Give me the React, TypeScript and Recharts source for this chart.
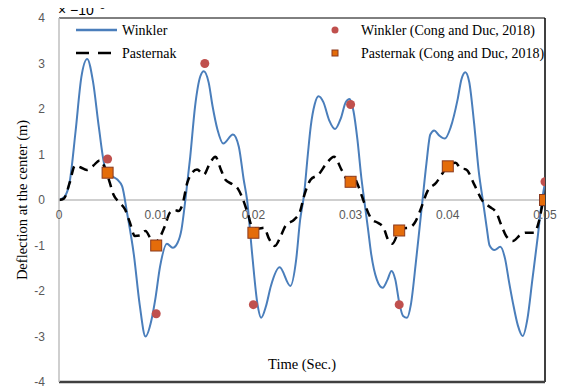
import React from 'react';
import {
  ComposedChart,
  Line,
  Scatter,
  XAxis,
  YAxis,
  ReferenceLine,
  ReferenceDot,
} from 'recharts';

// time axis (s) and deflection (x 1e-5 m)
const winklerT = [
  0, 0.0006, 0.0011, 0.0017, 0.0023, 0.0029, 0.0035, 0.0041, 0.0047, 0.0053, 0.006, 0.0065,
  0.007, 0.0077, 0.0083, 0.0089, 0.0095, 0.0099, 0.0104, 0.0111, 0.0117, 0.0122, 0.0126,
  0.013, 0.0135, 0.014, 0.01454, 0.0149, 0.0154, 0.0158, 0.0163, 0.0169, 0.0179, 0.0185,
  0.019, 0.01935, 0.01986, 0.0204, 0.0208, 0.0213, 0.0218, 0.0227, 0.0238, 0.0244, 0.0248,
  0.0252, 0.0256, 0.0259, 0.0263, 0.0267, 0.0272, 0.0278, 0.0284, 0.029, 0.0295, 0.0299,
  0.0303, 0.0307, 0.0311, 0.0314, 0.0318, 0.0321, 0.0327, 0.0333, 0.0338, 0.0342, 0.0346,
  0.035, 0.0354, 0.0358, 0.0362, 0.0367, 0.0371, 0.0374, 0.0378, 0.0382, 0.0386, 0.0391,
  0.0397, 0.0403, 0.041, 0.0414, 0.0418, 0.0422, 0.0427, 0.0432, 0.0436, 0.044, 0.0443,
  0.0448, 0.0454, 0.0459, 0.0463, 0.0467, 0.0472, 0.0477, 0.0482, 0.0487, 0.0492, 0.0497, 0.05,
];
const winklerV = [
  0, 0.08, 0.4, 1.5, 2.7, 3.1, 2.6, 1.6, 0.75, 0.55, 0.45, 0.3,
  -0.28, -1.2, -2.3, -3.0, -2.65, -2.19, -1.46, -0.96, -1.05, -0.94, -0.65,
  0.0, 0.95, 2.06, 2.72, 2.83, 2.58, 2.06, 1.55, 1.24, 1.44, 1.17,
  0.45, 0.0, -1.16, -2.26, -2.59, -2.33, -1.89, -1.48, -1.89, -1.31, -0.45,
  0.1, 1.0, 1.62, 2.1, 2.28, 2.15, 1.75, 1.56, 1.8, 2.15, 2.22,
  1.95, 1.33, 0.5, 0.0, -0.65, -1.16, -1.75, -1.93, -1.75, -1.56, -1.75,
  -2.25, -2.55, -2.59, -2.3, -1.4, -0.6, 0.0, 0.8, 1.44, 1.53, 1.42,
  1.35, 1.6, 2.2, 2.65, 2.81, 2.6, 1.7, 0.6, 0.0, -0.6, -1.0,
  -1.1, -1.03, -1.3, -1.8, -2.26, -2.75, -2.99, -2.6, -1.75, -0.9, 0.0, 0.38,
];

const pasternakT = [
  0, 0.0005, 0.0011, 0.00165, 0.0022, 0.00285, 0.0035, 0.0042, 0.0047, 0.0052, 0.0056, 0.0062,
  0.0068, 0.0073, 0.0078, 0.0083, 0.0089, 0.0094, 0.0097, 0.0103, 0.0109, 0.0114, 0.0119,
  0.0123, 0.0127, 0.0132, 0.0137, 0.0142, 0.0149, 0.0155, 0.0161, 0.0166, 0.0171, 0.0178,
  0.0184, 0.0188, 0.0194, 0.0199, 0.0205, 0.0211, 0.0216, 0.0222, 0.0228, 0.0233, 0.0242,
  0.0248, 0.0252, 0.0259, 0.0267, 0.0275, 0.0283, 0.0291, 0.0297, 0.0303, 0.0308, 0.0314,
  0.0322, 0.0328, 0.0334, 0.0338, 0.0343, 0.0349, 0.0355, 0.036, 0.0366, 0.0372, 0.0379,
  0.0388, 0.0395, 0.0401, 0.0408, 0.0413, 0.0419, 0.0427, 0.0436, 0.0443, 0.045, 0.0455,
  0.046, 0.0467, 0.0474, 0.048, 0.0489, 0.0494, 0.0498, 0.05,
];
const pasternakV = [
  0, 0.03, 0.38, 0.76, 0.72, 0.66, 0.75, 0.87, 0.72, 0.4, 0.12, -0.05,
  -0.21, -0.5, -0.79, -0.78, -0.68, -0.85, -0.97, -0.85, -0.57, -0.28, -0.22,
  -0.24, -0.1, 0.38, 0.6, 0.67, 0.56, 0.8, 0.95, 0.7, 0.45, 0.35,
  0.25, 0.08, -0.28, -0.6, -0.63, -0.61, -0.85, -1.01, -0.8, -0.57, -0.43,
  -0.25, 0.08, 0.45, 0.56, 0.8, 0.95, 0.65, 0.45, 0.51, 0.3, -0.06,
  -0.43, -0.5, -0.61, -0.85, -0.96, -0.72, -0.62, -0.61, -0.5, -0.21, 0.19,
  0.38, 0.6, 0.78, 0.82, 0.7, 0.67, 0.35, -0.03, -0.15, -0.28, -0.55,
  -0.79, -0.9, -0.78, -0.72, -0.72, -0.45, -0.06, 0,
];

const congWinklerT = [0.005, 0.01, 0.015, 0.02, 0.03, 0.035, 0.05];
const congWinklerV = [0.9, -2.5, 3.0, -2.3, 2.1, -2.3, 0.4];
const congPasternakT = [0.005, 0.01, 0.02, 0.03, 0.035, 0.04, 0.05];
const congPasternakV = [0.6, -1.0, -0.72, 0.4, -0.67, 0.74, 0];

const xTicks = [0, 0.01, 0.02, 0.03, 0.04, 0.05];
const xTickLabels = ['0', '0.01', '0.02', '0.03', '0.04', '0.05'];
const yTicks = [-4, -3, -2, -1, 0, 1, 2, 3, 4];

const winkler = winklerT.map((t, i) => ({ t, v: winklerV[i] }));
const pasternak = pasternakT.map((t, i) => ({ t, v: pasternakV[i] }));
const congWinkler = congWinklerT.map((t, i) => ({ t, v: congWinklerV[i] }));
const congPasternak = congPasternakT.map((t, i) => ({ t, v: congPasternakV[i] }));

const SERIF = '"Liberation Serif", "Times New Roman", serif';
const SANS = '"Liberation Sans", Arial, sans-serif';
const BLUE = '#4a7ebb';
const RED = '#c0504d';
const ORANGE = '#e46c0a';
const ORANGE_EDGE = '#8b3a1e';

const Circle = (p: any) => <circle cx={p.cx} cy={p.cy} r={4.5} fill={RED} />;
const Square = (p: any) => (
  <rect x={p.cx - 5.5} y={p.cy - 5.5} width={11} height={11} fill={ORANGE} stroke={ORANGE_EDGE} strokeWidth={1} />
);

// legend, anchored to the top edge of the plot
function TopLegend({ viewBox }: any) {
  const x = viewBox.x;
  const y = viewBox.y;
  const t = { fontFamily: SERIF, fontSize: 14, fill: '#000' };
  return (
    <g>
      <line x1={x + 17} x2={x + 58} y1={y + 12} y2={y + 12} stroke={BLUE} strokeWidth={2.5} />
      <text x={x + 63} y={y + 17} {...t}>Winkler</text>
      <line x1={x + 17} x2={x + 58} y1={y + 35} y2={y + 35} stroke="#000" strokeWidth={2.5} strokeDasharray="13 9" />
      <text x={x + 63} y={y + 40} {...t}>Pasternak</text>
      <circle cx={x + 276} cy={y + 12} r={3.5} fill={RED} />
      <text x={x + 302} y={y + 17} {...t}>Winkler (Cong and Duc, 2018)</text>
      <rect x={x + 273} y={y + 32} width={6} height={6} fill={ORANGE} stroke={ORANGE_EDGE} strokeWidth={1} />
      <text x={x + 302} y={y + 40} {...t}>Pasternak (Cong and Duc, 2018)</text>
    </g>
  );
}

function YTitle({ viewBox }: any) {
  const cx = 22;
  const cy = viewBox.y + viewBox.height / 2;
  return (
    <text
      x={cx}
      y={cy}
      transform={`rotate(-90 ${cx} ${cy})`}
      textAnchor="middle"
      dominantBaseline="central"
      fontFamily={SERIF}
      fontSize={14.5}
      fill="#000"
    >
      Deflection at the center (m)
    </text>
  );
}

export default function App() {
  return (
    <div style={{ position: 'relative', margin: '-8px 0 0 -8px', width: 566, height: 390 }}>
      <ComposedChart width={566} height={390} margin={{ top: 18, right: 21, bottom: 8, left: 29 }}>
        <XAxis type="number" dataKey="t" domain={[0, 0.05]} ticks={xTicks} hide allowDataOverflow />
        <YAxis
          type="number"
          domain={[-4, 4]}
          ticks={yTicks}
          width={30}
          axisLine={{ stroke: '#bfbfbf', strokeWidth: 1.5 }}
          tickLine={false}
          tickMargin={8}
          tick={{ fill: '#595959', fontSize: 12, fontFamily: SANS }}
          allowDataOverflow
          label={<YTitle />}
        />
        <ReferenceLine y={0} stroke="#bfbfbf" strokeWidth={1.5} />
        <ReferenceLine y={4} stroke="#000" strokeWidth={1} label={<TopLegend />} />
        <ReferenceLine x={0.05} stroke="#000" strokeWidth={1.5} />
        <ReferenceLine
          y={-4}
          stroke="#404040"
          strokeWidth={2.5}
          label={{ value: 'Time (Sec.)', position: 'top', offset: 13, fontFamily: SERIF, fontSize: 14.5, fill: '#000' }}
        />
        {xTicks.map((t, i) => (
          <ReferenceDot
            key={t}
            x={t}
            y={0}
            r={0}
            shape={(p: any) => (
              <text x={p.cx} y={p.cy + 19} textAnchor="middle" fontFamily={SANS} fontSize={12} fill="#595959">
                {xTickLabels[i]}
              </text>
            )}
          />
        ))}
        <Line
          data={winkler}
          dataKey="v"
          type="monotone"
          stroke={BLUE}
          strokeWidth={2}
          dot={false}
          isAnimationActive={false}
        />
        <Line
          data={pasternak}
          dataKey="v"
          type="monotone"
          stroke="#000"
          strokeWidth={2.5}
          strokeDasharray="9 6"
          dot={false}
          isAnimationActive={false}
        />
        <Scatter data={congWinkler} dataKey="v" shape={<Circle />} isAnimationActive={false} />
        <Scatter data={congPasternak} dataKey="v" shape={<Square />} isAnimationActive={false} />
      </ComposedChart>
      <svg width={130} height={18} style={{ position: 'absolute', left: 0, top: 0 }}>
        <text x={58} y={15} fontFamily={SANS} fontSize={14} fill="#000">
          × −10
          <tspan dy={-6} fontSize={10}>−5</tspan>
        </text>
      </svg>
    </div>
  );
}
